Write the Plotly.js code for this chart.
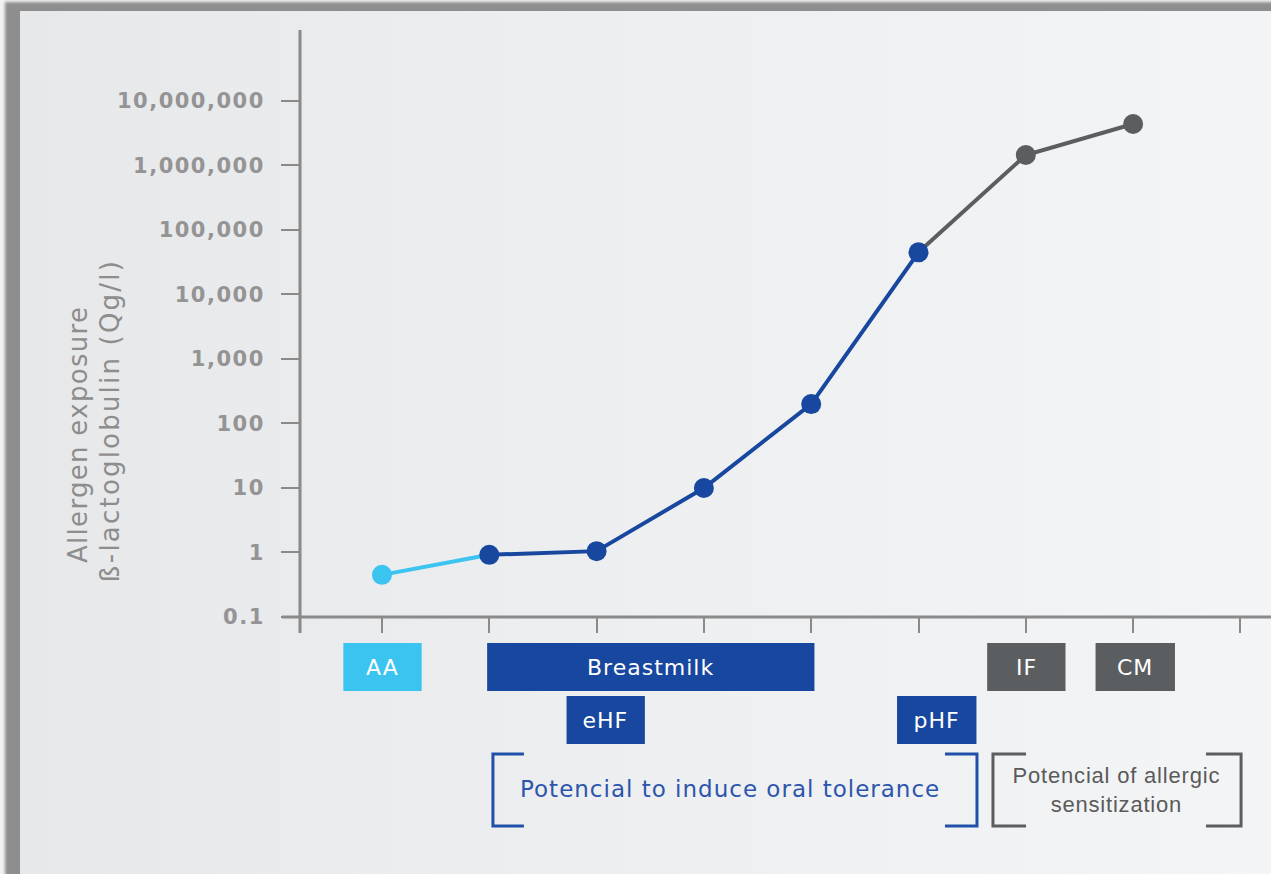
<!DOCTYPE html>
<html>
<head>
<meta charset="utf-8">
<script src="https://cdn.plot.ly/plotly-3.0.1.min.js"></script>
<style>
  html, body { margin: 0; padding: 0; background: #f2f2f2; overflow: hidden; }
  #frame { position: absolute; left: 5px; top: 2px; width: 1320px; height: 920px; background: #8e8e8e; filter: blur(1.5px); }
  #panel { position: absolute; left: 20px; top: 11px; width: 1300px; height: 900px;
           background: linear-gradient(90deg, #e7e8ea 0%, #eeeff0 50%, #f4f5f6 100%); }
  #chart { position: absolute; left: 0; top: 0; width: 1271px; height: 874px; }
  #chart .ytick text { letter-spacing: 1.5px; }
  #chart g.annotation[data-index="0"] text,
  #chart g.annotation[data-index="1"] text,
  #chart g.annotation[data-index="2"] text,
  #chart g.annotation[data-index="3"] text,
  #chart g.annotation[data-index="4"] text,
  #chart g.annotation[data-index="5"] text { letter-spacing: 1px; }
  #chart g.annotation[data-index="6"] text { letter-spacing: 1px; }
  #chart g.annotation[data-index="7"] text { letter-spacing: 0.8px; }
  #chart g.annotation[data-index="8"] text { letter-spacing: 1.3px; }
  #chart g.annotation[data-index="9"] text { letter-spacing: 2.2px; }
</style>
</head>
<body>
<div id="frame"></div>
<div id="panel"></div>
<div id="chart"></div>
<script>
// ---------- data ----------
const pointX = [0, 1, 2, 3, 4, 5, 6, 7];
const exposure = [0.45, 0.92, 1.05, 10, 200, 45000, 1450000, 4400000];
const pointGroup = ['light', 'blue', 'blue', 'blue', 'blue', 'blue', 'gray', 'gray'];
const lightSegment = [0, 1];         // indices of points joined by light-blue line
const blueSegment = [1, 2, 3, 4, 5]; // dark-blue line
const graySegment = [5, 6, 7];       // gray line
const yTickVals = [0.1, 1, 10, 100, 1000, 10000, 100000, 1000000, 10000000];
const yTickText = ['0.1', '1', '10', '100', '1,000', '10,000', '100,000', '1,000,000', '10,000,000'];
const boxLabels = ['AA', 'Breastmilk', 'eHF', 'pHF', 'IF', 'CM'];
const toleranceText = 'Potencial to induce oral tolerance';
const sensitizationText = 'Potencial of allergic<br>sensitization';
const yTitleLines = ['Allergen exposure', 'ß-lactoglobulin (Qg/l)'];

// ---------- style / layout constants ----------
const LIGHT = '#3cc4f0', BLUE = '#17479e', GRAY = '#5b5e61', AXIS = '#8a8a8a';
const colorOf = { light: LIGHT, blue: BLUE, gray: GRAY };
const M = { l: 300, r: 0, t: 30, b: 257 };
const W = 1271, H = 874;
const PW = W - M.l - M.r, PH = H - M.t - M.b;
const XR = [-0.764, 8.285];
const xp = v => (v - XR[0]) / (XR[1] - XR[0]);          // data x -> paper
const yp = py => (H - M.b - py) / PH;                    // pixel y -> paper
const pxX = px => (px - M.l) / PW;                       // pixel x -> paper

const boxSpec = [
  { x0: -0.36, x1: 0.37, row: 0, c: LIGHT },
  { x0: 0.98, x1: 4.03, row: 0, c: BLUE },
  { x0: 1.72, x1: 2.45, row: 1, c: BLUE },
  { x0: 4.80, x1: 5.54, row: 1, c: BLUE },
  { x0: 5.64, x1: 6.37, row: 0, c: GRAY },
  { x0: 6.65, x1: 7.39, row: 0, c: GRAY }
];
const rowPx = [[643, 691], [696, 744]];

function pick(idx, arr) { return idx.map(i => arr[i]); }
function lineTrace(idx, color) {
  return { x: pick(idx, pointX), y: pick(idx, exposure), mode: 'lines', type: 'scatter',
           line: { color: color, width: 4 }, hoverinfo: 'skip', showlegend: false };
}
const traces = [
  lineTrace(lightSegment, LIGHT),
  lineTrace(blueSegment, BLUE),
  lineTrace(graySegment, GRAY),
  { x: pointX, y: exposure, mode: 'markers', type: 'scatter', showlegend: false,
    marker: { size: 20, color: pointGroup.map(g => colorOf[g]), line: { width: 0 } } }
];

const shapes = [];
const annotations = [];
// axis lines
shapes.push({ type: 'line', xref: 'paper', yref: 'paper', x0: 0, x1: 0, y0: yp(633), y1: 1,
              line: { color: AXIS, width: 3 } });
shapes.push({ type: 'line', xref: 'paper', yref: 'paper', x0: pxX(282), x1: 1, y0: 0, y1: 0,
              line: { color: AXIS, width: 3 } });
// label boxes
boxSpec.forEach((b, i) => {
  const r = rowPx[b.row];
  shapes.push({ type: 'rect', xref: 'paper', yref: 'paper', x0: xp(b.x0), x1: xp(b.x1),
                y0: yp(r[0]), y1: yp(r[1]), fillcolor: b.c, line: { width: 0 } });
  annotations.push({ xref: 'paper', yref: 'paper', x: xp((b.x0 + b.x1) / 2), y: yp((r[0] + r[1]) / 2),
                     text: boxLabels[i], showarrow: false, xanchor: 'center', yanchor: 'middle',
                     font: { family: 'DejaVu Sans', size: 22, color: '#ffffff' } });
});
// brackets
function bracket(xOuter, xInner, top, bot, color) {
  const a = xp(xOuter), b = xp(xInner), t = yp(top), d = yp(bot);
  return { type: 'path', xref: 'paper', yref: 'paper',
           path: `M ${b},${t} L ${a},${t} L ${a},${d} L ${b},${d}`,
           line: { color: color, width: 3 } };
}
const BLT = '#2150aa';
shapes.push(bracket(1.034, 1.323, 754, 826, BLT));
shapes.push(bracket(5.545, 5.247, 754, 826, BLT));
shapes.push(bracket(5.694, 6.002, 754, 826, GRAY));
shapes.push(bracket(8.006, 7.679, 754, 826, GRAY));
annotations.push({ xref: 'paper', yref: 'paper', x: xp(3.24), y: yp(789), text: toleranceText,
  showarrow: false, xanchor: 'center', yanchor: 'middle',
  font: { family: 'DejaVu Sans', size: 23, color: '#2c55ad' } });
annotations.push({ xref: 'paper', yref: 'paper', x: xp(6.845), y: yp(790), text: sensitizationText,
  showarrow: false, xanchor: 'center', yanchor: 'middle',
  font: { family: 'Liberation Sans', size: 22, color: '#5a5a5a' } });
// y title (two lines)
const titleX = [78, 110], titleY = [435, 421];
yTitleLines.forEach((t, i) => {
  annotations.push({ xref: 'paper', yref: 'paper', x: pxX(titleX[i]), y: yp(titleY[i]), text: t,
    showarrow: false, textangle: -90, xanchor: 'center', yanchor: 'middle',
    font: { family: 'DejaVu Sans', size: 26, color: '#8d8d8d' } });
});

const layout = {
  width: W, height: H,
  margin: M,
  paper_bgcolor: 'rgba(0,0,0,0)', plot_bgcolor: 'rgba(0,0,0,0)',
  showlegend: false,
  xaxis: { range: XR, showgrid: false, zeroline: false, showline: false,
           tickmode: 'array', tickvals: pointX.concat([8]), showticklabels: false,
           ticks: 'outside', ticklen: 15, tickwidth: 2, tickcolor: AXIS, fixedrange: true },
  yaxis: { type: 'log', range: [-1, 8.1], showgrid: false, zeroline: false, showline: false,
           tickmode: 'array', tickvals: yTickVals, ticktext: yTickText,
           ticks: 'outside', ticklen: 18, tickwidth: 2, tickcolor: AXIS, ticklabelstandoff: 12,
           tickfont: { family: 'DejaVu Sans', size: 21, weight: 'bold', color: '#949494' }, fixedrange: true },
  shapes: shapes,
  annotations: annotations
};
Plotly.newPlot('chart', traces, layout, { displayModeBar: false, staticPlot: true });
</script>
</body>
</html>
